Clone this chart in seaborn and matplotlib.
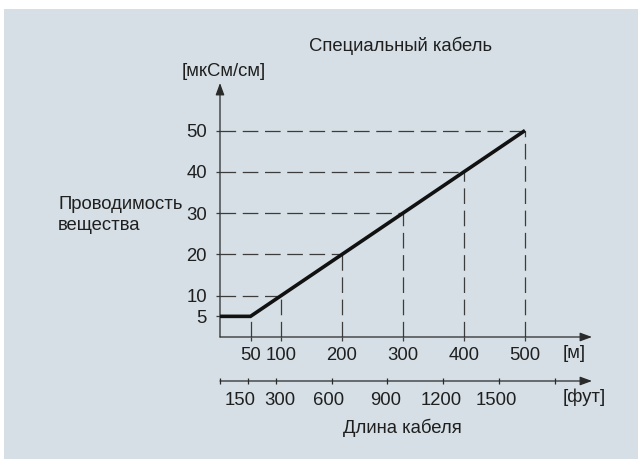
import matplotlib
matplotlib.use("Agg")
import matplotlib.pyplot as plt
from matplotlib.patches import Rectangle
from matplotlib.transforms import ScaledTranslation
import numpy as np
import pandas as pd
import seaborn as sns

# Conductivity limit vs. cable length (special cable)
length_m = [0, 50, 500]
conductivity = [5, 5, 50]

# Reference points marked with dashed guide lines
ref_length_m = [50, 100, 200, 300, 400, 500]
ref_conductivity = [5, 10, 20, 30, 40, 50]

meter_ticks = [50, 100, 200, 300, 400, 500]
cond_ticks = [5, 10, 20, 30, 40, 50]
feet_ticks = [0, 150, 300, 600, 900, 1200, 1500, 1800]
feet_labels = ["", "150", "300", "600", "900", "1200", "1500", ""]

title = "Специальный кабель"
y_unit = "[мкСм/см]"
y_name = "Проводимость\nвещества"
x_unit_m = "[м]"
x_unit_ft = "[фут]"
x_name = "Длина кабеля"

sns.set_theme(style="white")
plt.rcParams["font.family"] = ["Liberation Sans", "DejaVu Sans"]

W, H = 638, 459
TXT = "#1f1f1f"
AX = "#2a2a2a"
DASH = "#3c3c3c"
PANEL = "#d5dfe5"
FS = 13.3

fig = plt.figure(figsize=(W / 100, H / 100), dpi=100)
fig.patch.set_facecolor("white")
fig.patches.append(Rectangle((4 / W, 0), 1 - 4 / W, 1 - 9 / H,
                             transform=fig.transFigure, facecolor=PANEL,
                             edgecolor="none", zorder=-10))

x0, y0 = 220, 337
x1, y1 = 592, 83
ax = fig.add_axes([x0 / W, 1 - y0 / H, (x1 - x0) / W, (y0 - y1) / H])
ax.set_zorder(5)
ax.set_facecolor("none")
ax.set_xlim(0, (x1 - x0) / 0.61)
ax.set_ylim(0, (y0 - y1) / 4.13)
for s in ax.spines.values():
    s.set_visible(False)

df = pd.DataFrame({"length": length_m, "cond": conductivity})

# dashed guides from each reference point to both axes
dash_style = (0, (12.5, 5.3))
for xm, yv in zip(ref_length_m, ref_conductivity):
    ax.plot([xm, xm], [0, yv], color=DASH, lw=0.9, ls=dash_style, zorder=2)
    if xm != 50:
        ax.plot([0, xm], [yv, yv], color=DASH, lw=0.9, ls=dash_style, zorder=2)

sns.lineplot(data=df, x="length", y="cond", ax=ax, color="#111111",
             lw=2.6, zorder=4, solid_capstyle="butt", solid_joinstyle="miter")

# axes with arrow heads
arrow = dict(arrowstyle="-|>,head_length=0.6,head_width=0.22",
             color=AX, lw=0.9, mutation_scale=12, shrinkA=0, shrinkB=0)
ax.annotate("", xy=(1, 0), xytext=(0, 0), xycoords="axes fraction",
            arrowprops=arrow, annotation_clip=False)
ax.annotate("", xy=(0, 1), xytext=(0, 0), xycoords="axes fraction",
            arrowprops=arrow, annotation_clip=False)

ax.set_xticks(meter_ticks)
ax.set_xticklabels([str(v) for v in meter_ticks])
ax.set_yticks(cond_ticks)
ax.set_yticklabels([str(v) for v in cond_ticks])
ax.tick_params(axis="x", direction="out", length=3, width=0.9, color=DASH,
               pad=4.3, labelsize=FS, labelcolor=TXT, bottom=True)
ax.tick_params(axis="y", direction="out", length=3, width=0.9, color=DASH,
               pad=6.5, labelsize=FS, labelcolor=TXT, left=True)
ax.set_xlabel("")
ax.set_ylabel("")

# secondary length scale in feet
feet_pos = -(381 - y0) / (y0 - y1)
m_per_ft = 0.3048
sec = ax.secondary_xaxis(feet_pos, functions=(lambda m: m / m_per_ft,
                                             lambda f: f * m_per_ft))
sec.spines["bottom"].set_visible(False)
sec.set_xticks(feet_ticks)
sec.set_xticklabels(feet_labels)
sec.tick_params(axis="x", direction="inout", length=5, width=0.9, color=AX,
                pad=5.4, labelsize=FS, labelcolor=TXT)
ax.annotate("", xy=(1, feet_pos), xytext=(0, feet_pos),
            xycoords="axes fraction", arrowprops=arrow, annotation_clip=False)

# nudge the crowded feet labels apart (offsets in pixels)
label_nudge = {"150": -8, "300": 4, "600": -3, "900": -2, "1200": -2, "1500": -3}
fig.canvas.draw()
for tick in sec.xaxis.get_major_ticks():
    lbl = tick.label1
    dx = label_nudge.get(lbl.get_text(), 0)
    if dx:
        lbl.set_transform(lbl.get_transform()
                          + ScaledTranslation(dx / 100, 0, fig.dpi_scale_trans))

# labels
def ftext(px, py, s, **kw):
    fig.text(px / W, 1 - py / H, s, fontsize=FS, color=TXT, **kw)

ftext(401, 46, title, ha="center", va="center")
ftext(224, 72, y_unit, ha="center", va="center")
ftext(58, 215, y_name, ha="left", va="center", linespacing=1.3)
ftext(563, 353, x_unit_m, ha="left", va="center")
ftext(563, 397, x_unit_ft, ha="left", va="center")
ftext(402, 428, x_name, ha="center", va="center")

fig.savefig("out.png", dpi=100, facecolor=fig.get_facecolor())
